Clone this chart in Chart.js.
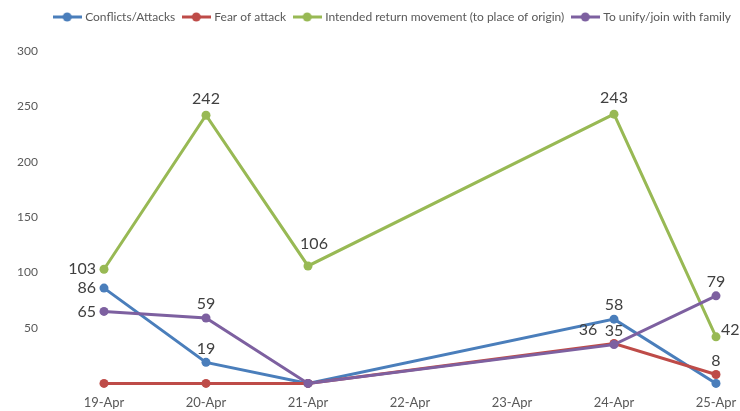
<!DOCTYPE html>
<html>
<head>
  <meta charset="UTF-8">
  <title>Reasons for movement</title>
  <script src="https://cdn.jsdelivr.net/npm/chart.js"></script>
  <style>
    body { margin: 0; background: #fff; }
  </style>
</head>
<body>
  <canvas id="chart" width="740" height="411"></canvas>

  <script>
    // data
    const days = ['19-Apr', '20-Apr', '21-Apr', '22-Apr', '23-Apr', '24-Apr', '25-Apr'];
    const conflicts = [86, 19, 0, null, null, 58, 0];
    const fearOfAttack = [0, 0, 0, null, null, 36, 8];
    const intendedReturn = [103, 242, 106, null, null, 243, 42];
    const unifyFamily = [65, 59, 0, null, null, 35, 79];
    const yTicks = [50, 100, 150, 200, 250, 300];

    // where each value label sits relative to its point ('' = no label)
    const labelPos = [
      ['left', 'top', '', '', '', 'top', ''],
      ['', '', '', '', '', 'topleft', 'top'],
      ['left', 'high', 'topright', '', '', 'high', 'right'],
      ['left', 'top', '', '', '', 'top', 'top']
    ];

    const FONT = 'Lato, "Open Sans", sans-serif';
    const HIDDEN = 'rgba(0,0,0,0)';

    function legendMark(color) {
      const c = document.createElement('canvas');
      c.width = 29; c.height = 10;
      const g = c.getContext('2d');
      g.strokeStyle = color; g.lineWidth = 3;
      g.beginPath(); g.moveTo(0, 5); g.lineTo(29, 5); g.stroke();
      g.fillStyle = color;
      g.beginPath(); g.arc(14.5, 5, 4.5, 0, Math.PI * 2); g.fill();
      return c;
    }

    function series(label, data, color, order) {
      return {
        label: label,
        data: data,
        borderColor: color,
        backgroundColor: color,
        borderWidth: 3,
        pointRadius: 4.5,
        pointHoverRadius: 4.5,
        pointBorderWidth: 0,
        pointStyle: 'circle',
        spanGaps: true,
        clip: false,
        tension: 0,
        order: order,
        mark: legendMark(color)
      };
    }

    // legend box height is fixed so the plot starts where the reference does
    const legendHeight = {
      id: 'legendHeight',
      afterInit(chart) {
        const lg = chart.legend;
        if (!lg) return;
        const fit = lg.fit;
        lg.fit = function () {
          fit.call(this);
          this.height = 49;
        };
      }
    };

    const valueLabels = {
      id: 'valueLabels',
      afterDatasetsDraw(chart) {
        const ctx = chart.ctx;
        ctx.save();
        ctx.font = '16px ' + FONT;
        ctx.fillStyle = '#404040';
        ctx.textBaseline = 'middle';
        chart.data.datasets.forEach((ds, di) => {
          const meta = chart.getDatasetMeta(di);
          meta.data.forEach((pt, i) => {
            const pos = labelPos[di][i];
            const v = ds.data[i];
            if (!pos || v === null) return;
            let x = pt.x, y = pt.y;
            ctx.textAlign = 'center';
            if (pos === 'left') { ctx.textAlign = 'right'; x -= 8; }
            else if (pos === 'right') { ctx.textAlign = 'left'; x += 5; y -= 7; }
            else if (pos === 'top') { y -= 14; }
            else if (pos === 'high') { y -= 16; }
            else if (pos === 'topright') { x += 6; y -= 22; }
            else if (pos === 'topleft') { x -= 26; y -= 14; }
            ctx.fillText(v, x, y);
          });
        });
        ctx.restore();
      }
    };

    new Chart(document.getElementById('chart'), {
      type: 'line',
      data: {
        labels: days,
        datasets: [
          series('Conflicts/Attacks', conflicts, '#4A7EBB', 3),
          series('Fear of attack', fearOfAttack, '#BE4B48', 2),
          series('Intended return movement (to place of origin)', intendedReturn, '#98B954', 1),
          series('To unify/join with family', unifyFamily, '#7D60A0', 0)
        ]
      },
      options: {
        responsive: false,
        animation: false,
        layout: { padding: { left: 0, right: 0, top: 2, bottom: 0 } },
        plugins: {
          tooltip: { enabled: false },
          legend: {
            position: 'top',
            align: 'end',
            labels: {
              font: { family: FONT, size: 12 },
              color: '#595959',
              usePointStyle: true,
              pointStyleWidth: 24,
              padding: 9,
              sort: (a, b) => a.datasetIndex - b.datasetIndex,
              generateLabels(chart) {
                return chart.data.datasets.map((ds, i) => ({
                  text: ds.label,
                  fontColor: '#595959',
                  pointStyle: ds.mark,
                  datasetIndex: i,
                  lineWidth: 0,
                  hidden: false
                }));
              }
            }
          }
        },
        scales: {
          x: {
            offset: false,
            // invisible tick marks keep the labels away from the plot
            grid: { display: true, drawOnChartArea: false, drawTicks: true, tickLength: 12, color: HIDDEN },
            border: { display: false },
            ticks: {
              font: { family: FONT, size: 13 },
              color: '#595959',
              padding: 0,
              maxRotation: 0,
              autoSkip: false
            }
          },
          y: {
            min: 0,
            max: 300,
            afterFit(scale) { scale.width = 104; },
            afterBuildTicks(scale) {
              scale.ticks = [0].concat(yTicks).map(v => ({ value: v }));
            },
            grid: { display: true, drawOnChartArea: false, drawTicks: true, tickLength: 60, color: HIDDEN },
            border: { display: false },
            ticks: {
              font: { family: FONT, size: 12 },
              color: '#595959',
              padding: 6,
              callback: v => v === 0 ? '' : v
            }
          },
          // empty right-hand axis, only keeps the plot clear of the right edge
          yRight: {
            position: 'right',
            min: 0,
            max: 300,
            afterFit(scale) { scale.width = 24; },
            grid: { display: false, drawTicks: false },
            border: { display: false },
            ticks: { display: false }
          }
        }
      },
      plugins: [legendHeight, valueLabels]
    });
  </script>
</body>
</html>
